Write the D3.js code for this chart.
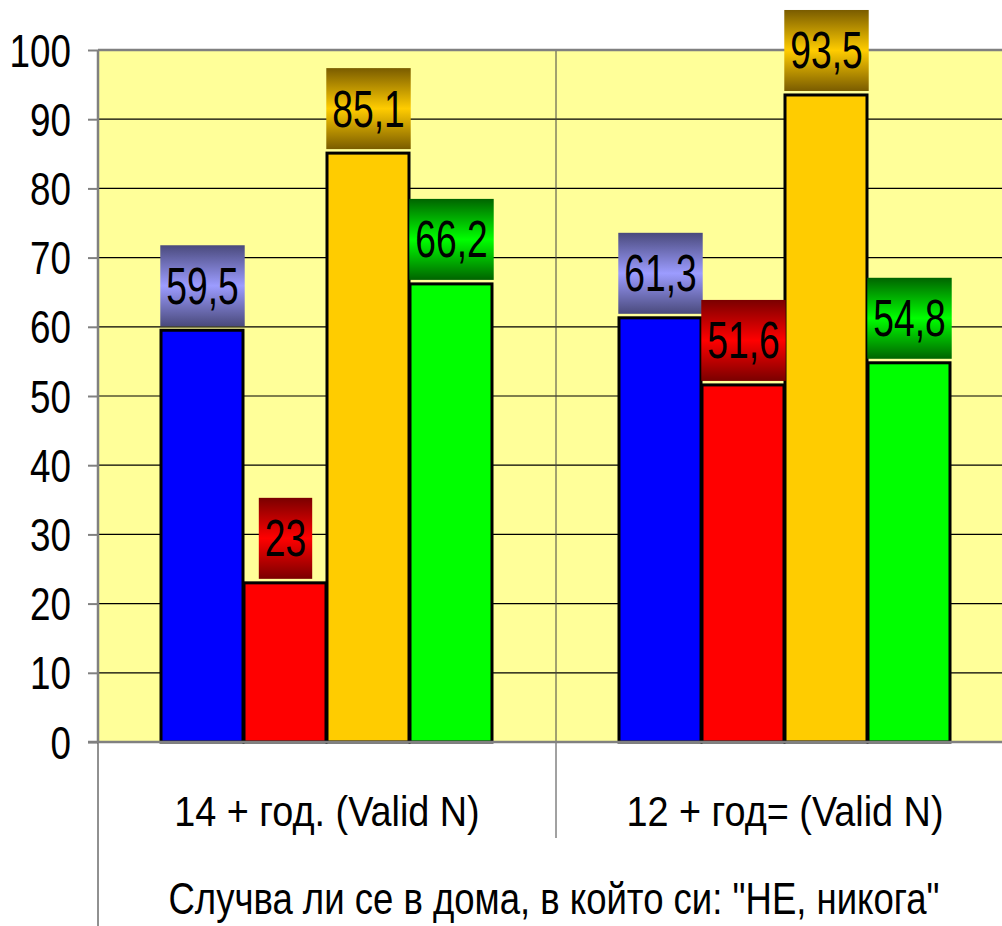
<!DOCTYPE html>
<html>
<head>
<meta charset="utf-8">
<script src="https://cdn.jsdelivr.net/npm/d3@7"></script>
<style>
  body { margin: 0; background: #fff; }
  text { font-family: "Liberation Sans", Arial, sans-serif; fill: #000; }
</style>
</head>
<body>
<div id="chart"></div>
<script>
// chart data
let categories = ["14 + год. (Valid N)", "12 + год= (Valid N)"];
let seriesNames = ["s1", "s2", "s3", "s4"];
let seriesValues = [
    [59.5, 23, 85.1, 66.2],
    [61.3, 51.6, 93.5, 54.8]
];
let yTicks = [0, 10, 20, 30, 40, 50, 60, 70, 80, 90, 100];
let axisTitle = "Случва ли се в дома, в който си: \"НЕ, никога\"";

let barColors = ["#0000ff", "#ff0000", "#ffcc00", "#00ff00"];
let labelDark = ["#4a4a7c", "#7a0000", "#7a5c00", "#006400"];
let labelLight = ["#9c9cff", "#ff0000", "#ffcc00", "#00ff00"];

//----------------------------------------
// SVG setup
let width = 1002,
    height = 926;
let plot = {left: 98, top: 50, right: 1014, bottom: 742};

let svg = d3.select('#chart').append('svg')
    .attr('width', width)
    .attr('height', height);

let defs = svg.append('defs');
seriesNames.forEach(function(s, i) {
    let g = defs.append('linearGradient')
        .attr('id', 'lab' + i)
        .attr('x1', 0).attr('y1', 0).attr('x2', 0).attr('y2', 1);
    g.append('stop').attr('offset', '0%').attr('stop-color', labelDark[i]);
    g.append('stop').attr('offset', '50%').attr('stop-color', labelLight[i]);
    g.append('stop').attr('offset', '100%').attr('stop-color', labelDark[i]);
});

//----------------------------------------
// Scale setup
let x0 = d3.scaleBand()
    .domain(categories)
    .range([plot.left, plot.right]);

let groupPad = 63;
let x1 = d3.scaleBand()
    .domain(seriesNames)
    .range([groupPad, x0.bandwidth() - groupPad]);

let y = d3.scaleLinear()
    .domain([0, 100])
    .range([plot.bottom, plot.top]);

//----------------------------------------
// Plot area
svg.append('rect')
    .attr('x', plot.left).attr('y', plot.top)
    .attr('width', plot.right - plot.left)
    .attr('height', plot.bottom - plot.top)
    .style('fill', '#ffff99');

// gridlines
svg.append('g')
    .selectAll('line')
    .data(yTicks.filter(function(d) { return d > 0 && d < 100; }))
    .enter()
    .append('line')
    .attr('x1', plot.left).attr('x2', plot.right)
    .attr('y1', function(d) { return y(d); })
    .attr('y2', function(d) { return y(d); })
    .style('stroke', '#000')
    .style('stroke-width', 1.2);

// category separator
svg.append('line')
    .attr('x1', x0(categories[1])).attr('x2', x0(categories[1]))
    .attr('y1', plot.top).attr('y2', 838)
    .style('stroke', '#444')
    .style('stroke-width', 1);

// top border
svg.append('line')
    .attr('x1', plot.left).attr('x2', plot.right)
    .attr('y1', plot.top).attr('y2', plot.top)
    .style('stroke', '#808080').style('stroke-width', 2.5);

//----------------------------------------
// Bars
let groups = svg.append('g')
    .selectAll('g')
    .data(seriesValues)
    .enter()
    .append('g')
    .attr('transform', function(d, i) { return 'translate(' + x0(categories[i]) + ',0)'; });

groups.selectAll('rect')
    .data(function(d) { return d; })
    .enter()
    .append('rect')
    .attr('x', function(d, i) { return x1(seriesNames[i]); })
    .attr('y', function(d) { return y(d); })
    .attr('width', x1.bandwidth() - 1)
    .attr('height', function(d) { return y(0) - y(d); })
    .style('fill', function(d, i) { return barColors[i]; })
    .style('stroke', '#000')
    .style('stroke-width', 3);

// data labels
let fmt = function(v) { return String(v).replace('.', ','); };
let labelH = 81, labelGap = 4, labelSx = 0.73;

groups.each(function(vals) {
    let g = d3.select(this);
    vals.forEach(function(v, i) {
        let cx = x1(seriesNames[i]) + x1.bandwidth() / 2;
        let bottom = y(v) - labelGap;
        let lg = g.append('g');
        let box = lg.append('rect');
        let t = lg.append('text')
            .attr('text-anchor', 'middle')
            .attr('transform', 'translate(' + cx + ',' + (bottom - labelH / 2 + 18) + ') scale(' + labelSx + ',1)')
            .style('font-size', '51px')
            .text(fmt(v));
        let w = t.node().getComputedTextLength() * labelSx + 12;
        box.attr('x', cx - w / 2)
            .attr('y', bottom - labelH)
            .attr('width', w)
            .attr('height', labelH)
            .style('fill', 'url(#lab' + i + ')');
    });
});

//----------------------------------------
// Axes
let yAxis = svg.append('g')
    .attr('transform', 'translate(' + plot.left + ',0)')
    .call(d3.axisLeft(y).tickValues(yTicks).tickSize(10).tickPadding(0).tickFormat(d3.format('d')));
yAxis.select('.domain').remove();
yAxis.selectAll('.tick line').style('stroke', '#808080').style('stroke-width', 2);
yAxis.selectAll('.tick text')
    .attr('x', null)
    .attr('dy', null)
    .attr('text-anchor', 'end')
    .attr('transform', 'translate(-27,16) scale(0.8,1)')
    .style('font-size', '46px')
    .style('font-family', '"Liberation Sans", Arial, sans-serif');

// left axis line
svg.append('line')
    .attr('x1', plot.left).attr('x2', plot.left)
    .attr('y1', plot.top).attr('y2', plot.bottom)
    .style('stroke', '#808080').style('stroke-width', 2.5);
svg.append('line')
    .attr('x1', plot.left).attr('x2', plot.left)
    .attr('y1', plot.bottom).attr('y2', height)
    .style('stroke', '#222').style('stroke-width', 1);

// bottom axis line
svg.append('line')
    .attr('x1', plot.left - 10).attr('x2', plot.right)
    .attr('y1', plot.bottom).attr('y2', plot.bottom)
    .style('stroke', '#808080').style('stroke-width', 2.5);

// category labels
svg.append('g')
    .selectAll('text')
    .data(categories)
    .enter()
    .append('text')
    .attr('text-anchor', 'middle')
    .attr('transform', function(d) {
        return 'translate(' + (x0(d) + x0.bandwidth() / 2) + ',826) scale(0.9,1)';
    })
    .style('font-size', '42px')
    .text(function(d) { return d; });

// axis title
svg.append('text')
    .attr('text-anchor', 'middle')
    .attr('transform', 'translate(' + ((plot.left + plot.right) / 2 - 2) + ',914) scale(0.83,1)')
    .style('font-size', '44px')
    .text(axisTitle);
</script>
</body>
</html>
